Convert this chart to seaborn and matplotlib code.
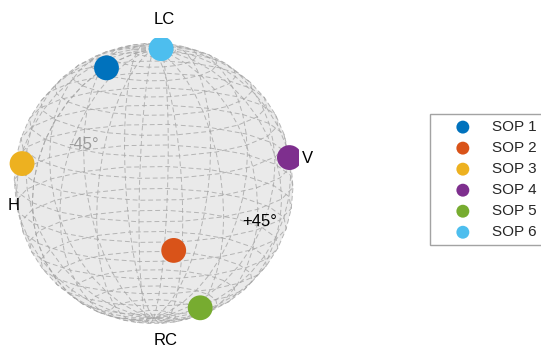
import numpy as np
import seaborn as sns
import matplotlib.pyplot as plt

# Stokes coordinates (S1, S2, S3) of each state of polarization
sop_names = ["SOP 1", "SOP 2", "SOP 3", "SOP 4", "SOP 5", "SOP 6"]
s1 = [0.40, 0.36, 0.94, -0.79, -0.02, -0.05]
s2 = [0.02, 0.91, -0.25, 0.57, 0.63, 0.02]
s3 = [0.92, -0.22, 0.22, 0.22, -0.77, 0.998]
sop_colors = ["#0072BD", "#D95319", "#EDB120", "#7E2F8E", "#77AC30", "#4DBEEE"]

# axis labels of the Poincare sphere
axis_labels = ["LC", "RC", "H", "V", "+45°", "-45°"]
axis_points = [(0, 0, 1.22), (0, 0, -1.17), (1.15, 0, 0), (-1.27, 0, 0), (0, 1.27, 0.035), (0, -1.0, 0.04)]
axis_align = ["left", "left", "center", "center", "left", "center"]
axis_colors = ["black", "black", "black", "black", "black", "#9a9a9a"]

sns.set_theme(style="white")
plt.rcParams["font.family"] = ["Liberation Sans", "DejaVu Sans"]

fig = plt.figure(figsize=(5.41, 3.54), dpi=100)
ax = fig.add_axes([0.0, 0.0, 0.553, 0.941], projection="3d", proj_type="ortho")
ax.computed_zorder = False

# unit sphere, 20 x 20 patches like a default sphere mesh
u = np.linspace(0, 2 * np.pi, 21)
v = np.linspace(0, np.pi, 21)
xs = np.outer(np.cos(u), np.sin(v))
ys = np.outer(np.sin(u), np.sin(v))
zs = np.outer(np.ones_like(u), np.cos(v))

ax.plot_surface(xs, ys, zs, color="#e0e0e0", alpha=0.4, shade=False,
                linewidth=0, antialiased=True, zorder=1)
ax.plot_wireframe(xs, ys, zs, color="#a6a6a6", linewidth=0.7, linestyle=(0, (5, 3)),
                  alpha=0.8, zorder=2)

for name, x, y, z, c in zip(sop_names, s1, s2, s3, sop_colors):
    ax.scatter([x], [y], [z], s=320, color=c, label=name, depthshade=False,
               edgecolors="none", zorder=3)

for lab, p, ha, c in zip(axis_labels, axis_points, axis_align, axis_colors):
    ax.text(p[0], p[1], p[2], lab, color=c, fontsize=12, ha=ha, va="center", zorder=4)

ax.set_xlim(-1, 1)
ax.set_ylim(-1, 1)
ax.set_zlim(-1, 1)
ax.set_box_aspect((1, 1, 1), zoom=1.575)
ax.view_init(elev=16, azim=60)
ax.set_axis_off()

leg = fig.legend(loc="upper left", bbox_to_anchor=(430 / 541, 0.0, 0.25, 1 - 114 / 354),
                 mode="expand", fontsize=11, markerscale=0.52, frameon=True,
                 fancybox=False, borderpad=0.4, handlelength=3.5, handletextpad=0.15,
                 labelspacing=0.46, borderaxespad=0)
leg.get_frame().set_edgecolor("#8c8c8c")
leg.get_frame().set_linewidth(1.0)

fig.savefig("out.png", dpi=100)
